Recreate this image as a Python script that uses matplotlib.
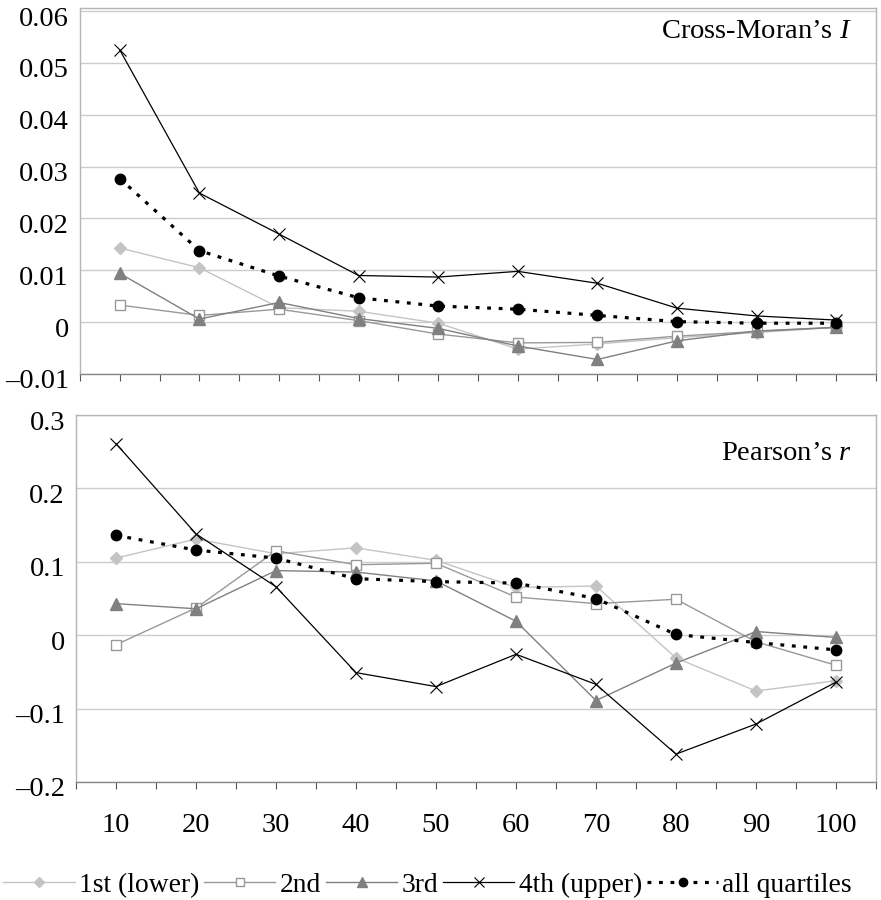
import matplotlib
matplotlib.use("Agg")
import matplotlib.pyplot as plt
import matplotlib.transforms as mtransforms

plt.rcParams['font.family'] = ['Liberation Serif', 'DejaVu Serif']
plt.rcParams['mathtext.fontset'] = 'custom'
plt.rcParams['mathtext.rm'] = 'Liberation Serif'
plt.rcParams['mathtext.it'] = 'Liberation Serif:italic'

# distance classes
x = [10, 20, 30, 40, 50, 60, 70, 80, 90, 100]

# Cross-Moran's I by quartile
moran_q1 = [0.0143, 0.0105, 0.0028, 0.0021, -0.0002, -0.0052, -0.0042, -0.0030, -0.0020, -0.0010]
moran_q2 = [0.0033, 0.0013, 0.0025, 0.0003, -0.0023, -0.0040, -0.0039, -0.0027, -0.0018, -0.0010]
moran_q3 = [0.0094, 0.0006, 0.0038, 0.0007, -0.0012, -0.0046, -0.0072, -0.0036, -0.0017, -0.0010]
moran_q4 = [0.0525, 0.0249, 0.0170, 0.0090, 0.0087, 0.0098, 0.0075, 0.0027, 0.0012, 0.0004]
moran_all = [0.0277, 0.0138, 0.0089, 0.0047, 0.0031, 0.0025, 0.0013, 0.0001, -0.0002, -0.0002]

# Pearson's r by quartile
pearson_q1 = [0.105, 0.131, 0.111, 0.119, 0.102, 0.065, 0.067, -0.031, -0.076, -0.062]
pearson_q2 = [-0.013, 0.037, 0.115, 0.096, 0.098, 0.052, 0.043, 0.049, -0.009, -0.041]
pearson_q3 = [0.043, 0.036, 0.088, 0.086, 0.074, 0.019, -0.089, -0.038, 0.005, -0.003]
pearson_q4 = [0.261, 0.138, 0.066, -0.051, -0.070, -0.026, -0.067, -0.162, -0.121, -0.064]
pearson_all = [0.136, 0.116, 0.105, 0.077, 0.073, 0.071, 0.050, 0.001, -0.010, -0.020]

labels = ["1st (lower)", "2nd", "3rd", "4th (upper)", "all quartiles"]
moran_ticks = [-0.01, 0, 0.01, 0.02, 0.03, 0.04, 0.05, 0.06]
moran_ticklabels = ["\u20130.01", "0", "0.01", "0.02", "0.03", "0.04", "0.05", "0.06"]
pearson_ticks = [-0.2, -0.1, 0, 0.1, 0.2, 0.3]
pearson_ticklabels = ["\u20130.2", "\u20130.1", "0", "0.1", "0.2", "0.3"]

FS = 20.5

styles = [
    dict(color='#c4c4c4', marker='D', markersize=6, mfc='#c4c4c4', mec='#c4c4c4', lw=1.0),
    dict(color='#999999', marker='s', markersize=7, mfc='white', mec='#999999', mew=1.0, lw=1.0),
    dict(color='#808080', marker='^', markersize=9, mfc='#808080', mec='#808080', lw=1.0),
    dict(color='black', marker='x', markersize=9, mew=0.8, lw=0.9),
    dict(color='black', marker='o', markersize=7.5, mfc='black', mec='black', lw=2.3,
         linestyle=(0, (1.2, 2.4)), dash_capstyle='butt'),
]

fig = plt.figure(figsize=(8.81, 9), dpi=100)
W, H = 881.0, 900.0
ax1 = fig.add_axes([80 / W, 1 - 374 / H, 796 / W, 366 / H])
ax2 = fig.add_axes([76 / W, 1 - 782 / H, 800 / W, 367 / H])


def style_axes(ax, ticks, ticklabels, ylim, show_x):
    ax.set_xlim(5, 105)
    ax.set_ylim(*ylim)
    ax.set_yticks(ticks)
    ax.set_yticklabels(ticklabels, fontsize=FS)
    ax.set_xticks(x)
    ax.set_xticks([5 + 10 * i for i in range(11)], minor=True)
    if show_x:
        ax.set_xticklabels([str(v) for v in x], fontsize=FS)
    else:
        ax.set_xticklabels([])
    ax.tick_params(axis='y', length=0, pad=8)
    ax.tick_params(axis='x', which='both', direction='out', length=5, width=0.8,
                   color='#555555', pad=17)
    ax.grid(axis='y', color='#cccccc', lw=1.0)
    ax.set_axisbelow(True)
    for s in ['left', 'top', 'right']:
        ax.spines[s].set_color('#b5b5b5')
        ax.spines[s].set_linewidth(1.0)
    ax.spines['bottom'].set_color('#888888')
    ax.spines['bottom'].set_linewidth(1.0)
    off = mtransforms.ScaledTranslation(0, -5 / 100.0, fig.dpi_scale_trans)
    for lab in ax.get_yticklabels():
        lab.set_transform(lab.get_transform() + off)


handles = []
for series, st, lab in zip([moran_q1, moran_q2, moran_q3, moran_q4, moran_all], styles, labels):
    h, = ax1.plot(x, series, label=lab, clip_on=False, **st)
    handles.append(h)
for series, st in zip([pearson_q1, pearson_q2, pearson_q3, pearson_q4, pearson_all], styles):
    ax2.plot(x, series, clip_on=False, **st)

style_axes(ax1, moran_ticks, moran_ticklabels, (-0.01, 0.0606), False)
style_axes(ax2, pearson_ticks, pearson_ticklabels, (-0.2, 0.3), True)

ax1.text(0.97, 0.937, "Cross-Moran\u2019s $\\mathit{I}$", transform=ax1.transAxes,
         ha='right', va='center', fontsize=FS)
ax2.text(0.97, 0.896, "Pearson\u2019s $\\mathit{r}$", transform=ax2.transAxes,
         ha='right', va='center', fontsize=FS)

fig.legend(handles, labels, loc='center left', bbox_to_anchor=(3 / W, 1 - 885 / H),
           ncol=5, frameon=False, fontsize=19.8, handlelength=2.6, handletextpad=0.15,
           columnspacing=0.18, borderaxespad=0, borderpad=0, markerscale=0.8)

fig.savefig("out.png", dpi=100)
